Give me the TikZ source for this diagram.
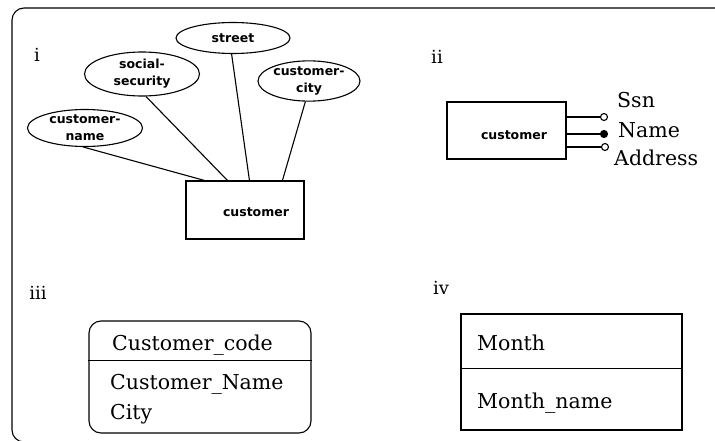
\documentclass[tikz,border=0pt]{standalone}
\usepackage{fontspec}
\usetikzlibrary{shapes.geometric,calc}
\newfontfamily\attrfont{DejaVu Sans}
\newfontfamily\slabfont{DejaVu Serif}
\tikzset{
  ink/.style={line width=1.1pt, black},
  attr/.style={ellipse, draw, ink, inner sep=0pt, align=center,
    font=\attrfont\bfseries\fontsize{12.5}{17}\selectfont},
  entbox/.style={rectangle, draw, ink, inner sep=0pt},
  enttext/.style={font=\attrfont\bfseries\fontsize{12.5}{17}\selectfont, inner sep=0pt},
  partlabel/.style={font=\slabfont\fontsize{18}{22}\selectfont, inner sep=0pt},
  big/.style={font=\slabfont\fontsize{20.5}{25}\selectfont, inner sep=0pt, anchor=west},
  conn/.style={ink},
  pin/.style={circle, draw, ink, inner sep=0pt, minimum size=7pt},
}
\begin{document}
\begin{tikzpicture}[x=1pt, y=-1pt]
\useasboundingbox (0,0) rectangle (715,441);
\begin{scope}
\clip (0,0) rectangle (715,441);
% outer frame
\draw[ink, rounded corners=12pt] (12,8) rectangle (740,442);
\end{scope}

% ---------- i: entity with attribute ellipses ----------
\node[partlabel] (li) at (37,55) {i};
\node[attr, minimum width=115pt, minimum height=37pt] (cname) at (85,128) {customer-\\name};
\node[attr, minimum width=115pt, minimum height=44pt] (ssec) at (142,74) {social-\\security};
\node[attr, minimum width=114pt, minimum height=31pt] (street) at (233,38) {street};
\node[attr, minimum width=102pt, minimum height=38pt] (ccity) at (309,81) {customer-\\city};
\node[entbox, minimum width=118pt, minimum height=58pt] (cust) at (245,210) {};
\node[enttext] (custt) at (256,212) {customer};
\draw[conn] (cname.-95) -- ($(cust.north west)+(19,0)$);
\draw[conn] (ssec.-80) -- ($(cust.north west)+(42,0)$);
\draw[conn] (street.-95) -- ($(cust.north west)+(64,0)$);
\draw[conn] (ccity.-100) -- ($(cust.north west)+(97,0)$);

% ---------- ii: entity with attribute pins ----------
\node[partlabel] (lii) at (437,57) {ii};
\node[entbox, minimum width=119pt, minimum height=57pt] (cust2) at (506.5,130.5) {};
\node[enttext] (cust2t) at (514,135) {customer};
\node[pin] (pssn) at (604,117) {};
\node[pin, fill=black] (pname) at (604,134) {};
\node[pin] (paddr) at (605,147) {};
\draw[conn] (cust2.east |- pssn) -- (pssn);
\draw[conn] (cust2.east |- pname) -- (pname);
\draw[conn] (cust2.east |- paddr) -- (paddr);
\node[big] (tssn) at (617,100) {Ssn};
\node[big] (tname) at (618,130) {Name};
\node[big] (taddr) at (614,158) {Address};

% ---------- iii: rounded entity box ----------
\node[partlabel] (liii) at (38,293) {iii};
\node[entbox, rounded corners=12pt, minimum width=222pt, minimum height=112pt] (cbox) at (200,377) {};
\draw[ink] ($(cbox.north west)+(0,40)$) -- ($(cbox.north east)+(0,40)$);
\node[big] (ccode) at (112,345) {Customer\_code};
\node[big] (cnm) at (110,384) {Customer\_Name};
\node[big] (ccty) at (110,414) {City};

% ---------- iv: plain entity box ----------
\node[partlabel] (liv) at (441,288) {iv};
\node[entbox, minimum width=221pt, minimum height=116pt] (mbox) at (571.5,372) {};
\draw[ink] ($(mbox.north west)+(0,55)$) -- ($(mbox.north east)+(0,55)$);
\node[big] (mon) at (477,343) {Month};
\node[big] (monn) at (477,403) {Month\_name};
\end{tikzpicture}
\end{document}
